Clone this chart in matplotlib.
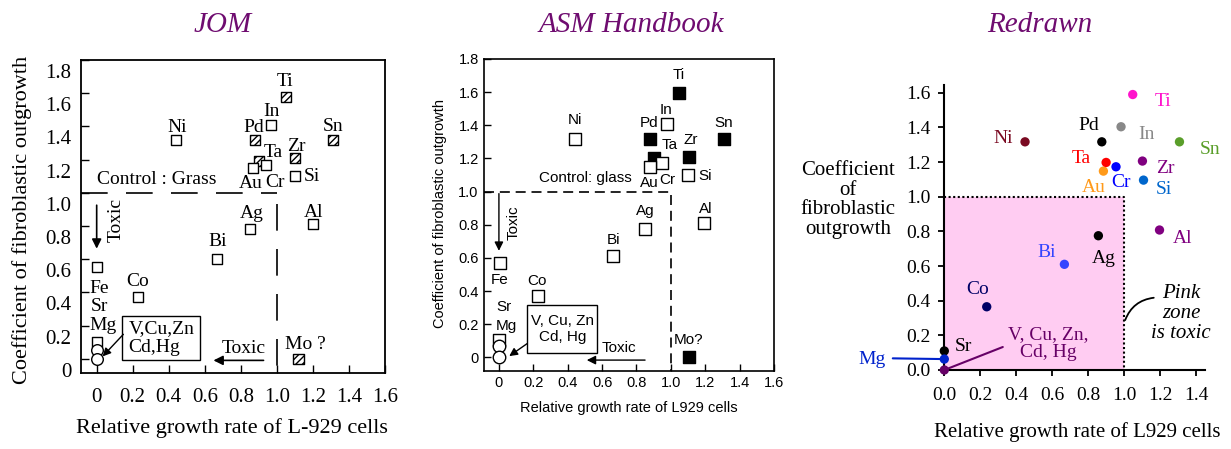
#!/usr/bin/env python3
"""Cytotoxicity of pure metals: JOM figure, ASM Handbook figure and a redrawn version."""

import matplotlib
matplotlib.use("Agg")
import matplotlib.pyplot as plt
import matplotlib.transforms as mtransforms
import numpy as np
from matplotlib.patches import Rectangle
from matplotlib.ticker import FuncFormatter, FormatStrFormatter

SERIF = "Liberation Serif"
SANS = "Liberation Sans"
TITLE_COLOR = "#6F0C70"
PINK = "#FFCCF2"

# ---- JOM (scanned original) ----
jom_open_names = ["In", "Ni", "Cr", "Au", "Si", "Ag", "Al", "Bi", "Fe", "Co", "Mg"]
jom_open_x = [0.97, 0.44, 0.94, 0.87, 1.10, 0.85, 1.20, 0.67, 0.0, 0.23, 0.0]
jom_open_y = [1.41, 1.32, 1.17, 1.15, 1.10, 0.78, 0.81, 0.60, 0.55, 0.37, 0.10]
jom_hatch_names = ["Ti", "Pd", "Sn", "Zr", "Ta", "Mo"]
jom_hatch_x = [1.05, 0.88, 1.31, 1.10, 0.90, 1.12]
jom_hatch_y = [1.58, 1.32, 1.32, 1.21, 1.19, 0.0]
jom_circle_x = [0.0, 0.0]
jom_circle_y = [0.05, 0.0]

# ---- ASM Handbook ----
asm_open_names = ["In", "Ni", "Cr", "Au", "Si", "Ag", "Al", "Bi", "Fe", "Co", "Mg"]
asm_open_x = [0.98, 0.445, 0.95, 0.88, 1.10, 0.85, 1.195, 0.665, 0.005, 0.23, 0.0]
asm_open_y = [1.41, 1.32, 1.175, 1.15, 1.10, 0.777, 0.812, 0.61, 0.57, 0.37, 0.104]
asm_filled_names = ["Ti", "Pd", "Sn", "Zr", "Ta", "Mo"]
asm_filled_x = [1.047, 0.876, 1.307, 1.103, 0.90, 1.103]
asm_filled_y = [1.595, 1.32, 1.32, 1.21, 1.20, 0.0]
asm_circle_x = [0.0, 0.0]
asm_circle_y = [0.068, 0.004]

# ---- Redrawn ----
re_names = ["Ti", "In", "Pd", "Ni", "Sn", "Zr", "Cr", "Au", "Ta", "Si",
            "Ag", "Al", "Bi", "Co", "Sr", "Mg", "V, Cu, Zn,\nCd, Hg"]
re_x = [1.048, 0.983, 0.876, 0.449, 1.308, 1.102, 0.955, 0.885, 0.90, 1.108,
        0.857, 1.197, 0.668, 0.236, 0.0, 0.0, 0.0]
re_y = [1.59, 1.404, 1.317, 1.317, 1.317, 1.206, 1.173, 1.148, 1.198, 1.096,
        0.775, 0.808, 0.61, 0.365, 0.11, 0.063, 0.0]
re_colors = ["#FF14CC", "#888888", "#000000", "#7A0A22", "#5A9E2A", "#800080",
             "#0000FF", "#FF9A1A", "#FF0000", "#0066CC", "#000000", "#800080",
             "#3344FF", "#000066", "#000000", "#0022CC", "#660066"]

# label positions (data coords) for each panel
JOM_LABEL_POS = {
    "Ti": (1.046, 1.668), "In": (0.972, 1.487), "Pd": (0.870, 1.393),
    "Ni": (0.444, 1.393), "Sn": (1.311, 1.397), "Zr": (1.107, 1.280),
    "Ta": (0.981, 1.240), "Au": (0.856, 1.055), "Cr": (0.991, 1.059),
    "Si": (1.194, 1.099), "Ag": (0.861, 0.874), "Al": (1.204, 0.884),
    "Bi": (0.670, 0.704), "Fe": (0.015, 0.422), "Co": (0.226, 0.468),
    "Sr": (0.015, 0.312), "Mg": (0.033, 0.201), "Mo ?": (1.157, 0.086),
}
ASM_LABEL_POS = {
    "Ti": (1.045, 1.701), "In": (0.973, 1.495), "Pd": (0.876, 1.416),
    "Ni": (0.443, 1.430), "Sn": (1.307, 1.416), "Zr": (1.113, 1.314),
    "Ta": (0.992, 1.280), "Au": (0.876, 1.053), "Cr": (0.981, 1.069),
    "Si": (1.200, 1.093), "Ag": (0.850, 0.884), "Al": (1.200, 0.898),
    "Bi": (0.666, 0.707), "Fe": (0.006, 0.466), "Co": (0.219, 0.462),
    "Sr": (0.031, 0.305), "Mg": (0.041, 0.189), "Mo?": (1.103, 0.108),
}
RE_LABEL_POS = {
    "Ti": (1.215, 1.548), "In": (1.126, 1.362), "Pd": (0.805, 1.413),
    "Ni": (0.325, 1.337), "Sn": (1.479, 1.273), "Zr": (1.228, 1.163),
    "Ta": (0.761, 1.221), "Cr": (0.981, 1.081), "Au": (0.829, 1.052),
    "Si": (1.224, 1.042), "Ag": (0.889, 0.644), "Al": (1.327, 0.760),
    "Bi": (0.570, 0.679), "Co": (0.186, 0.467), "Sr": (0.106, 0.138),
}

W, H = 1231, 449
fig = plt.figure(figsize=(W / 100, H / 100), dpi=100)


def px_axes(left, top, right, bottom):
    return fig.add_axes([left / W, 1 - bottom / H, (right - left) / W, (bottom - top) / H])


def arrow(ax, start, end, lw=1.2, head=14):
    ax.annotate("", xy=end, xytext=start,
                arrowprops=dict(arrowstyle="-|>", color="black", lw=lw,
                                mutation_scale=head, shrinkA=0, shrinkB=0))


def zero_fmt(v, _):
    return "0" if abs(v) < 1e-9 else f"{v:.1f}"


# =================== JOM ===================
ax1 = px_axes(81, 60, 385, 373)
ax1.set_xlim(-0.087, 1.6)
ax1.set_ylim(-0.086, 1.8)
ax1.set_xticks(np.arange(0, 1.61, 0.2))
ax1.set_yticks(np.arange(0, 1.81, 0.2))
ax1.xaxis.set_major_formatter(FuncFormatter(zero_fmt))
ax1.yaxis.set_major_formatter(FuncFormatter(zero_fmt))
ax1.tick_params(direction="in", length=6, width=1, labelsize=15)
ax1.tick_params(axis="x", pad=11)
ax1.tick_params(axis="y", pad=7)
for lab in ax1.get_xticklabels() + ax1.get_yticklabels():
    lab.set_fontfamily(SERIF)
shift = mtransforms.ScaledTranslation(0, -0.11, fig.dpi_scale_trans)
for tick in ax1.yaxis.get_major_ticks():
    tick.label1.set_transform(tick.label1.get_transform() + shift)
for sp in ax1.spines.values():
    sp.set_linewidth(1.3)

ax1.plot([-0.087, 1.0], [1.0, 1.0], color="black", lw=1.2, ls=(0, (16, 11)))
ax1.plot([1.0, 1.0], [0.93, -0.086], color="black", lw=1.2, ls=(0, (16, 11)))

ax1.scatter(jom_hatch_x, jom_hatch_y, marker="s", s=52, facecolors="white",
            edgecolors="black", linewidths=1, hatch="/////", zorder=3)
ax1.scatter(jom_open_x, jom_open_y, marker="s", s=52, facecolors="white",
            edgecolors="black", linewidths=1, zorder=3)
ax1.scatter(jom_circle_x, jom_circle_y, marker="o", s=70, facecolors="white",
            edgecolors="black", linewidths=1, zorder=3, clip_on=False)

for name, (lx, ly) in JOM_LABEL_POS.items():
    ax1.text(lx, ly, name, ha="center", va="center", fontsize=14, family=SERIF)
ax1.text(0.333, 1.079, "Control : Grass", ha="center", va="center", fontsize=14, family=SERIF)
ax1.text(0.111, 0.834, "Toxic", ha="center", va="center", rotation=90, fontsize=14, family=SERIF)
ax1.text(0.815, 0.060, "Toxic", ha="center", va="center", fontsize=14, family=SERIF)
arrow(ax1, (0.0, 0.925), (0.0, 0.663))
arrow(ax1, (0.926, -0.01), (0.648, -0.01))
ax1.add_patch(Rectangle((0.143, -0.01), 0.431, 0.265, facecolor="white",
                        edgecolor="black", lw=1, zorder=2))
ax1.text(0.176, 0.122, "V,Cu,Zn\nCd,Hg", ha="left", va="center", fontsize=14,
         family=SERIF, linespacing=1.15, zorder=4)
arrow(ax1, (0.148, 0.147), (0.033, 0.014), lw=1, head=12)

ax1.set_xlabel("Relative growth rate of L-929 cells", fontsize=16, family=SERIF)
ax1.xaxis.label.set_va("center")
ax1.xaxis.set_label_coords(0.498, -0.176)
ax1.set_ylabel("Coefficient of fibroblastic outgrowth", fontsize=16, family=SERIF)
ax1.yaxis.label.set_va("center")
ax1.yaxis.set_label_coords(-0.194, 0.489)

# =================== ASM Handbook ===================
ax2 = px_axes(484.3, 59, 774, 370.7)
ax2.set_xlim(-0.085, 1.6)
ax2.set_ylim(-0.08, 1.8)
ax2.set_xticks(np.arange(0, 1.61, 0.2))
ax2.set_yticks(np.arange(0, 1.81, 0.2))
ax2.xaxis.set_major_formatter(FuncFormatter(zero_fmt))
ax2.yaxis.set_major_formatter(FuncFormatter(zero_fmt))
ax2.tick_params(direction="in", length=5, width=1, labelsize=10.5, pad=4)
for lab in ax2.get_xticklabels() + ax2.get_yticklabels():
    lab.set_fontfamily(SANS)
for sp in ax2.spines.values():
    sp.set_linewidth(1.2)

ax2.plot([-0.085, 1.0, 1.0], [1.0, 1.0, -0.08], color="black", lw=1.2, ls=(0, (6, 3.5)))

ax2.scatter(asm_filled_x, asm_filled_y, marker="s", s=70, facecolors="black",
            edgecolors="black", linewidths=1, zorder=3)
ax2.scatter(asm_open_x, asm_open_y, marker="s", s=70, facecolors="white",
            edgecolors="black", linewidths=1, zorder=3)
ax2.scatter(asm_circle_x, asm_circle_y, marker="o", s=81, facecolors="white",
            edgecolors="black", linewidths=1, zorder=3, clip_on=False)

for name, (lx, ly) in ASM_LABEL_POS.items():
    ax2.text(lx, ly, name, ha="center", va="center", fontsize=11, family=SANS)
ax2.text(0.505, 1.083, "Control: glass", ha="center", va="center", fontsize=11, family=SANS)
ax2.text(0.083, 0.812, "Toxic", ha="center", va="center", rotation=90, fontsize=11, family=SANS)
ax2.text(0.699, 0.054, "Toxic", ha="center", va="center", fontsize=11, family=SANS)
arrow(ax2, (0.0, 0.988), (0.0, 0.643), lw=1, head=13)
arrow(ax2, (0.85, -0.016), (0.511, -0.016), lw=1, head=13)
ax2.add_patch(Rectangle((0.165, 0.028), 0.408, 0.287, facecolor="white",
                        edgecolor="black", lw=1, zorder=2))
ax2.text(0.369, 0.172, "V, Cu, Zn\nCd, Hg", ha="center", va="center", fontsize=11,
         family=SANS, linespacing=1.15, zorder=4)
arrow(ax2, (0.165, 0.084), (0.06, 0.008), lw=1, head=12)

ax2.set_xlabel("Relative growth rate of L929 cells", fontsize=10.5, family=SANS)
ax2.xaxis.label.set_va("center")
ax2.xaxis.set_label_coords(0.4995, -0.12)
ax2.set_ylabel("Coefficient of fibroblastic outgrowth", fontsize=10.5, family=SANS)
ax2.yaxis.label.set_va("center")
ax2.yaxis.set_label_coords(-0.153, 0.503)

# =================== Redrawn ===================
ax3 = px_axes(944.3, 85, 1205, 370)
ax3.set_xlim(0, 1.45)
ax3.set_ylim(0, 1.645)
ax3.set_xticks(np.arange(0, 1.41, 0.2))
ax3.set_yticks(np.arange(0, 1.61, 0.2))
ax3.xaxis.set_major_formatter(FormatStrFormatter("%.1f"))
ax3.yaxis.set_major_formatter(FormatStrFormatter("%.1f"))
ax3.tick_params(direction="out", length=4.5, width=1.3, labelsize=14)
ax3.tick_params(axis="x", pad=8)
ax3.tick_params(axis="y", pad=5.5)
for lab in ax3.get_xticklabels() + ax3.get_yticklabels():
    lab.set_fontfamily(SERIF)
ax3.spines["top"].set_visible(False)
ax3.spines["right"].set_visible(False)
ax3.spines["left"].set_linewidth(1.5)
ax3.spines["bottom"].set_linewidth(1.5)

ax3.add_patch(Rectangle((0, 0), 1.0, 1.0, facecolor=PINK, edgecolor="none", zorder=0))
ax3.plot([0, 1.0, 1.0], [1.0, 1.0, 0], color="black", lw=1.5, ls=(0, (1, 1.2)), zorder=1)

ax3.scatter(re_x, re_y, s=45, c=re_colors, linewidths=0, zorder=4, clip_on=False)

for name, col in zip(re_names, re_colors):
    if name in RE_LABEL_POS:
        lx, ly = RE_LABEL_POS[name]
        ax3.text(lx, ly, name, ha="center", va="center", fontsize=14, color=col,
                 family=SERIF)

mg = re_names.index("Mg")
ax3.annotate("Mg", xy=(re_x[mg], re_y[mg]), xytext=(-0.401, 0.058),
             ha="center", va="center", fontsize=14, color=re_colors[mg], family=SERIF,
             annotation_clip=False,
             arrowprops=dict(arrowstyle="-", color=re_colors[mg], lw=1.5,
                             shrinkA=3, shrinkB=0, relpos=(1.0, 0.6)))
grp = len(re_names) - 1
ax3.annotate(re_names[grp], xy=(re_x[grp], re_y[grp]), xytext=(0.579, 0.154),
             ha="center", va="center", fontsize=14, color=re_colors[grp], family=SERIF,
             linespacing=1.05,
             arrowprops=dict(arrowstyle="-", color=re_colors[grp], lw=1.5,
                             shrinkA=2, shrinkB=0, relpos=(0.05, 0.5)))

ax3.text(1.317, 0.327, "Pink\nzone\nis toxic", ha="center", va="center", fontsize=15,
         style="italic", family=SERIF, linespacing=1.05)
ax3.annotate("", xy=(1.006, 0.288), xytext=(1.165, 0.417), annotation_clip=False,
             arrowprops=dict(arrowstyle="-", color="black", lw=1.3,
                             shrinkA=0, shrinkB=0, connectionstyle="arc3,rad=0.3"))

ax3.set_xlabel("Relative growth rate of L929 cells", fontsize=15, family=SERIF)
ax3.xaxis.label.set_va("center")
ax3.xaxis.set_label_coords(0.509, -0.2175)
ax3.set_ylabel("Coefficient\nof\nfibroblastic\noutgrowth", fontsize=15, family=SERIF,
               rotation=0, linespacing=1.05)
ax3.yaxis.label.set_va("center")
ax3.yaxis.label.set_ha("center")
ax3.yaxis.set_label_coords(-0.369, 0.596)

# panel titles
for title, cx in [("JOM", 223), ("ASM Handbook", 631), ("Redrawn", 1040)]:
    fig.text(cx / W, 1 - 25 / H, title, ha="center", va="center", fontsize=21,
             style="italic", family=SERIF, color=TITLE_COLOR)

fig.savefig("out.png", dpi=100)
